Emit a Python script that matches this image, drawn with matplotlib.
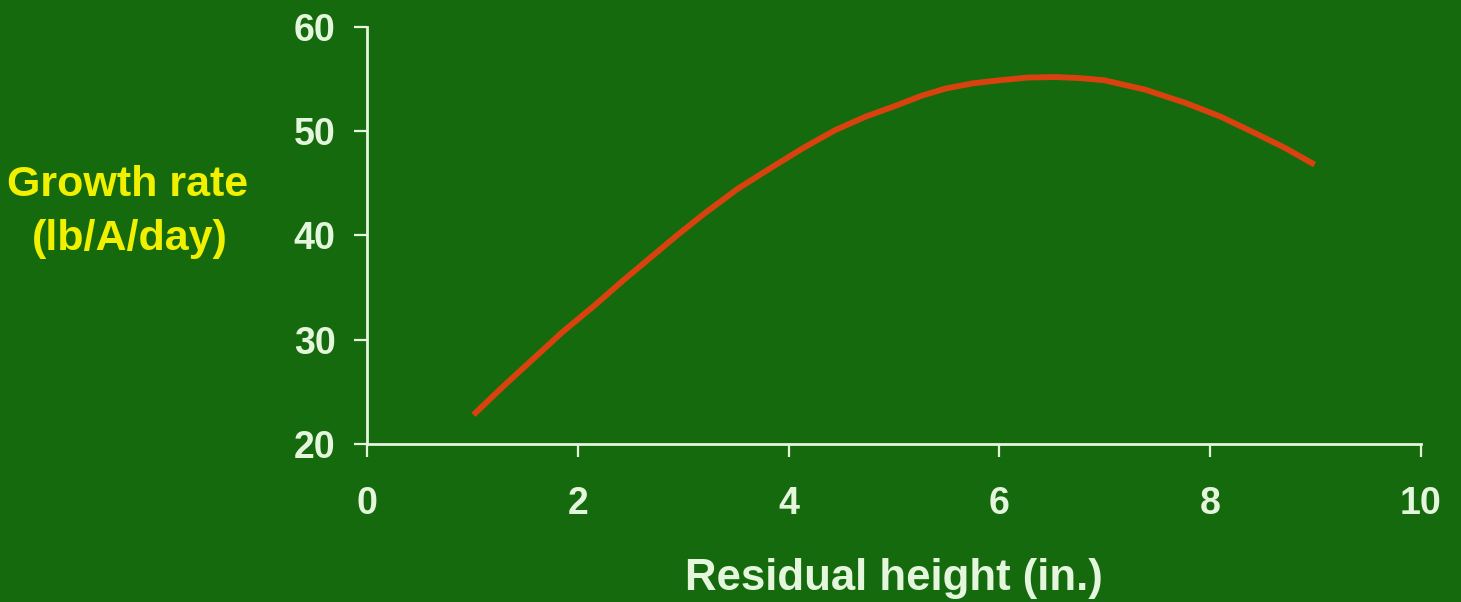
import matplotlib
matplotlib.use("Agg")
import matplotlib.pyplot as plt

# Data
residual_height = [1.01, 1.30, 1.57, 1.85, 2.16, 2.42, 2.68, 2.94, 3.20, 3.52, 3.85, 4.14,
                   4.44, 4.73, 5.03, 5.26, 5.49, 5.75, 6.01, 6.27, 6.53, 6.76, 6.99,
                   7.38, 7.77, 8.10, 8.43, 8.71, 8.99]
growth_rate = [22.8, 25.6, 28.1, 30.7, 33.3, 35.6, 37.8, 40.0, 42.1, 44.5, 46.6, 48.4,
               50.1, 51.4, 52.5, 53.4, 54.1, 54.6, 54.9, 55.15, 55.2, 55.1, 54.9,
               54.0, 52.7, 51.4, 49.8, 48.4, 46.8]
x_ticks = [0, 2, 4, 6, 8, 10]
y_ticks = [20, 30, 40, 50, 60]

BG = "#166a0e"
FG = "#e4f6dc"
LINE = "#d9420f"
YEL = "#f0f000"

plt.rcParams['font.family'] = ['Liberation Sans', 'DejaVu Sans']
plt.rcParams['font.weight'] = 'bold'

fig = plt.figure(figsize=(14.61, 6.02), dpi=100, facecolor=BG)
ax = fig.add_axes([367/1461, 1-444/602, (1421-367)/1461, (444-27)/602])
ax.set_facecolor(BG)

ax.plot(residual_height, growth_rate, color=LINE, lw=4.2,
        solid_capstyle='butt', solid_joinstyle='round')

ax.set_xlim(0, 10)
ax.set_ylim(20, 60)
ax.set_xticks(x_ticks)
ax.set_yticks(y_ticks)
ax.set_xticklabels([str(t) for t in x_ticks])
ax.set_yticklabels([str(t) for t in y_ticks])

for s in ['top', 'right']:
    ax.spines[s].set_visible(False)
for s in ['left', 'bottom']:
    ax.spines[s].set_color(FG)
    ax.spines[s].set_linewidth(2)

ax.tick_params(axis='x', colors=FG, length=9.5, width=1.6, pad=21, labelsize=27)
ax.tick_params(axis='y', colors=FG, length=9.5, width=1.6, pad=13, labelsize=27)
for lbl in ax.get_xticklabels() + ax.get_yticklabels():
    lbl.set_fontweight('bold')

fig.text(894/1461, 1-590/602, "Residual height (in.)", color=FG, fontsize=31.5,
         fontweight='bold', ha='center', va='baseline')
fig.text(128/1461, 1-196/602, "Growth rate", color=YEL, fontsize=31,
         fontweight='bold', ha='center', va='baseline')
fig.text(130/1461, 1-250/602, "(lb/A/day)", color=YEL, fontsize=31,
         fontweight='bold', ha='center', va='baseline')

fig.savefig("out.png", dpi=100, facecolor=BG)
